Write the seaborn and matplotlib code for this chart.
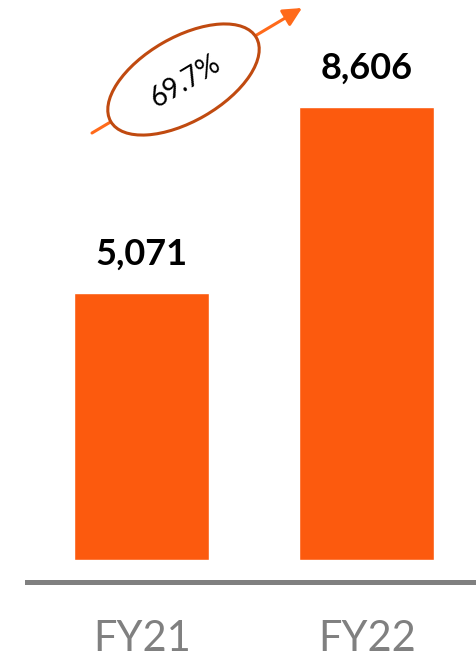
import matplotlib
matplotlib.use("Agg")
import matplotlib.pyplot as plt
import seaborn as sns
import pandas as pd
from matplotlib.patches import Ellipse

# ==============================
# DATA
# ==============================
years = ["FY21", "FY22"]
values = [5071, 8606]
growth_label = "69.7%"

bar_color = "#FC5A0E"
ring_color = "#C04A10"
arrow_color = "#FF6A1A"
axis_gray = "#808080"

# ==============================
# FIGURE SETUP
# ==============================
sns.set_style("white")
plt.rcParams['font.family'] = ['Lato', 'DejaVu Sans']

fig = plt.figure(figsize=(4.77, 6.6), dpi=100)
ax = fig.add_axes([27 / 477, 100 / 660, 450 / 477, 460 / 660])

df = pd.DataFrame({"year": years, "value": values})
sns.barplot(data=df, x="year", y="value", color=bar_color, saturation=1,
            width=0.6, ax=ax)

ax.set_xlim(-0.51, 1.49)
ax.set_ylim(0, 8606 * 460 / 453)
ax.set_xlabel("")
ax.set_ylabel("")
ax.set_yticks([])
for side in ["left", "right", "top"]:
    ax.spines[side].set_visible(False)
ax.spines["bottom"].set_position(("outward", 16))
ax.spines["bottom"].set_color(axis_gray)
ax.spines["bottom"].set_linewidth(3.6)
ax.tick_params(axis="x", length=0, pad=27, labelsize=30, labelcolor=axis_gray)

# value labels
for bars in ax.containers:
    ax.bar_label(bars, labels=[f"{v:,}" for v in values], padding=16,
                 fontsize=26, fontweight="bold", color="black")

# ==============================
# GROWTH ANNOTATION
# ==============================
over = fig.add_axes([0, 0, 1, 1])
over.set_xlim(0, 477)
over.set_ylim(660, 0)
over.axis("off")
over.patch.set_alpha(0)

over.annotate("", xy=(302, 8), xytext=(92, 133),
              arrowprops=dict(arrowstyle="-|>", color=arrow_color, lw=2.2,
                              mutation_scale=28, shrinkA=0, shrinkB=0))
over.add_patch(Ellipse((183.5, 79.5), 168, 84, angle=-30, facecolor="white",
                       edgecolor=ring_color, lw=2.2, zorder=3))
over.text(185, 81, growth_label, rotation=31, ha="center", va="center",
          fontsize=20, color="black", zorder=4, rotation_mode="anchor")

plt.savefig("out.png", dpi=100)
